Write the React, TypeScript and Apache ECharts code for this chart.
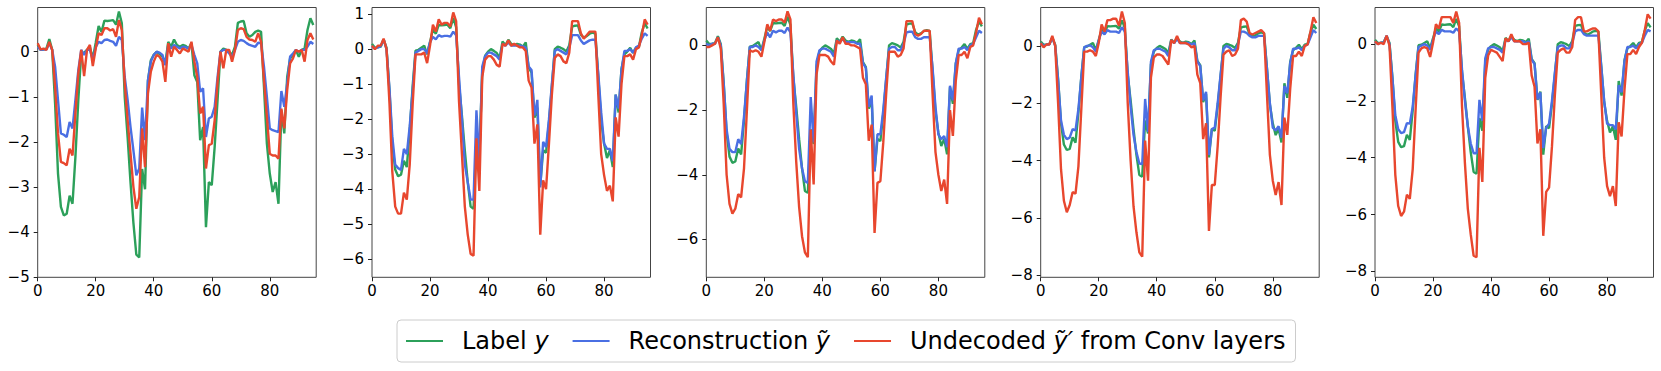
import React, { useEffect, useRef } from "react";
import * as echarts from "echarts";

const labelY = [0.15,0.04,0.05,0.07,0.28,0.04,-1.15,-2.70,-3.44,-3.63,
-3.59,-3.19,-3.37,-2.33,-1.07,-0.04,-0.02,0.04,0.10,-0.15,
0.20,0.57,0.44,0.69,0.68,0.69,0.70,0.60,0.89,0.63,
-1.00,-1.90,-2.90,-3.80,-4.50,-4.56,-2.60,-3.05,-0.65,-0.19,
-0.07,0.00,-0.05,-0.11,-0.25,0.22,0.11,0.27,0.15,0.11,
0.15,0.13,0.07,0.19,-0.52,-0.67,-1.96,-1.67,-3.89,-2.89,
-2.96,-2.11,-1.07,0.00,0.07,0.04,0.00,-0.07,0.11,0.64,
0.67,0.68,0.41,0.33,0.37,0.44,0.47,0.44,-0.78,-2.04,
-2.70,-3.11,-2.89,-3.37,-1.30,-1.81,-0.56,-0.15,-0.07,0.04,
-0.11,0.04,0.07,0.48,0.74,0.59];

const recon1 = [0.11,0.04,0.05,0.05,0.19,0.04,-0.33,-1.07,-1.81,-1.84,
-1.89,-1.56,-1.70,-1.07,-0.41,0.04,-0.07,0.04,0.04,-0.19,
0.10,0.22,0.19,0.26,0.27,0.24,0.22,0.13,0.33,0.26,
-0.56,-1.07,-1.67,-2.19,-2.74,-2.59,-1.24,-1.96,-0.63,-0.22,
-0.07,0.00,-0.02,-0.07,-0.30,0.15,0.07,0.15,0.11,0.07,
0.11,0.10,0.07,0.15,-0.07,-0.26,-0.89,-0.81,-1.89,-1.48,
-1.44,-1.22,-0.56,0.00,0.04,0.04,-0.04,-0.11,0.04,0.22,
0.26,0.24,0.19,0.15,0.13,0.11,0.20,0.19,-0.33,-1.00,
-1.70,-1.74,-1.76,-1.78,-0.87,-1.22,-0.70,-0.11,-0.04,0.04,
0.00,0.04,0.04,0.11,0.22,0.17];

const undec1 = [0.19,0.05,0.07,0.04,0.22,0.04,-0.78,-1.81,-2.44,-2.47,
-2.52,-2.15,-2.30,-1.37,-0.48,0.04,-0.54,0.04,0.15,-0.32,
0.07,0.41,0.37,0.52,0.52,0.47,0.50,0.33,0.70,0.48,
-0.70,-1.52,-2.26,-3.00,-3.48,-3.22,-1.70,-2.56,-0.93,-0.44,
-0.22,-0.07,-0.11,-0.22,-0.67,0.19,-0.11,0.11,0.04,-0.04,
0.07,0.04,0.00,0.22,-0.22,-0.56,-1.37,-1.22,-2.59,-2.07,
-2.04,-1.52,-0.67,0.00,-0.37,0.04,0.04,-0.22,0.04,0.48,
0.52,0.50,0.33,0.27,0.26,0.22,0.41,0.22,-0.63,-1.44,
-2.26,-2.30,-2.30,-2.37,-1.26,-1.70,-0.85,-0.26,-0.15,0.04,
0.00,0.04,-0.22,0.26,0.41,0.27];

const recon2 = [0.08,0.02,0.05,0.08,0.28,0.0,-1.1,-2.5,-3.3,-3.4,
-3.45,-2.85,-3.0,-2.2,-1.2,-0.1,-0.05,0.0,0.0,-0.12,
0.2,0.35,0.28,0.4,0.36,0.38,0.38,0.36,0.5,0.4,
-0.8,-2.0,-3.3,-3.8,-4.3,-4.3,-1.75,-3.2,-0.5,-0.2,
-0.1,-0.1,-0.15,-0.2,-0.3,0.15,0.1,0.2,0.1,0.1,
0.1,0.1,0.08,0.05,-0.5,-0.6,-1.9,-1.45,-3.95,-2.65,
-2.8,-2.0,-1.0,-0.05,0.0,-0.05,-0.1,-0.15,0.05,0.4,
0.4,0.4,0.25,0.15,0.2,0.25,0.27,0.27,-0.7,-1.8,
-2.7,-2.85,-2.85,-3.2,-1.3,-1.7,-0.6,-0.05,-0.05,0.0,
-0.1,0.05,0.1,0.3,0.45,0.38];

const undec2 = [0.1,0.0,0.1,0.1,0.3,0.0,-1.5,-3.5,-4.5,-4.7,
-4.7,-4.1,-4.3,-3.3,-1.6,-0.15,-0.15,-0.15,-0.1,-0.4,
0.1,0.7,0.5,0.85,0.7,0.75,0.75,0.65,1.05,0.8,
-1.5,-3.0,-4.5,-5.3,-5.85,-5.9,-2.55,-4.05,-0.8,-0.3,
-0.2,-0.2,-0.3,-0.45,-0.5,0.15,0.1,0.25,0.1,0.15,
0.1,0.05,0.05,-0.05,-0.9,-1.1,-2.7,-2.15,-5.3,-3.75,
-4.0,-2.7,-1.3,-0.25,-0.15,-0.2,-0.35,-0.4,-0.1,0.8,
0.8,0.8,0.45,0.3,0.4,0.5,0.5,0.5,-1.3,-3.0,
-3.6,-4.05,-3.9,-4.35,-1.95,-2.5,-1.0,-0.2,-0.2,-0.15,
-0.3,0.0,0.05,0.4,0.85,0.7];

const recon3 = [0.05,0.0,0.05,0.05,0.25,0.0,-1.2,-2.6,-3.2,-3.3,
-3.3,-2.9,-3.05,-2.2,-1.1,-0.05,-0.05,0.0,-0.05,-0.15,
0.15,0.4,0.25,0.45,0.4,0.45,0.45,0.38,0.55,0.4,
-0.9,-2.1,-3.2,-3.8,-4.2,-4.25,-1.6,-3.0,-0.5,-0.15,
-0.1,-0.1,-0.15,-0.2,-0.35,0.15,0.1,0.2,0.1,0.1,
0.1,0.1,0.05,0.05,-0.55,-0.7,-1.9,-1.55,-3.9,-2.75,
-2.75,-2.0,-1.0,-0.1,-0.05,-0.05,-0.15,-0.15,0.05,0.4,
0.42,0.42,0.25,0.2,0.2,0.25,0.25,0.25,-0.7,-1.9,
-2.75,-2.9,-2.8,-3.15,-1.25,-1.7,-0.55,-0.1,-0.1,-0.05,
-0.15,0.0,0.05,0.25,0.45,0.38];

const undec3 = [-0.05,-0.05,0.0,0.05,0.25,-0.1,-1.8,-4.0,-4.9,-5.2,
-5.05,-4.6,-4.7,-3.8,-2.0,-0.15,-0.2,-0.15,-0.2,-0.35,
0.1,0.65,0.45,0.8,0.75,0.8,0.8,0.7,1.05,0.8,
-1.8,-3.6,-5.0,-5.9,-6.4,-6.55,-2.6,-4.3,-0.9,-0.3,
-0.3,-0.3,-0.35,-0.5,-0.6,0.15,0.05,0.25,0.05,0.05,
0.0,0.0,-0.05,-0.1,-1.0,-1.2,-2.95,-2.45,-5.8,-4.25,
-4.2,-3.0,-1.5,-0.2,-0.2,-0.2,-0.35,-0.3,-0.1,0.75,
0.75,0.75,0.35,0.3,0.35,0.45,0.45,0.45,-1.5,-3.3,
-4.0,-4.5,-4.15,-4.9,-2.0,-2.8,-1.1,-0.3,-0.3,-0.2,
-0.4,-0.05,0.0,0.4,0.85,0.65];

const recon4 = [0.1,0.0,0.05,0.05,0.3,0.0,-1.2,-2.6,-3.1,-3.25,
-3.2,-2.9,-2.95,-2.2,-1.1,-0.05,0.0,0.02,-0.05,-0.2,
0.2,0.5,0.4,0.55,0.5,0.5,0.5,0.45,0.65,0.5,
-0.9,-2.1,-3.1,-3.7,-4.1,-4.12,-1.85,-3.0,-0.55,-0.15,
-0.1,-0.1,-0.15,-0.2,-0.35,0.2,0.1,0.25,0.1,0.1,
0.1,0.1,0.05,0.1,-0.55,-0.7,-1.9,-1.6,-3.8,-2.9,
-2.85,-2.0,-1.0,-0.1,0.0,-0.05,-0.15,-0.15,0.05,0.5,
0.5,0.45,0.35,0.3,0.3,0.35,0.35,0.35,-0.8,-2.0,
-2.85,-2.95,-2.8,-3.2,-1.4,-1.65,-0.6,-0.1,-0.1,-0.05,
-0.15,0.0,0.05,0.3,0.55,0.45];

const undec4 = [0.1,-0.05,0.05,0.05,0.35,0.0,-2.0,-4.3,-5.4,-5.8,
-5.55,-5.1,-5.15,-4.2,-2.2,-0.2,-0.2,-0.15,-0.2,-0.35,
0.1,0.75,0.5,0.9,0.9,0.95,0.95,0.7,1.2,0.8,
-2.0,-4.0,-5.6,-6.5,-7.2,-7.35,-3.3,-4.7,-1.1,-0.4,
-0.3,-0.3,-0.35,-0.5,-0.65,0.2,0.1,0.35,0.1,0.1,
0.1,0.05,-0.05,0.0,-1.0,-1.3,-3.25,-2.7,-6.45,-4.85,
-4.85,-3.5,-1.8,-0.3,-0.2,-0.15,-0.35,-0.3,-0.1,0.9,
0.95,0.85,0.45,0.4,0.45,0.5,0.55,0.45,-1.7,-3.8,
-4.7,-5.2,-4.75,-5.55,-2.5,-3.1,-1.5,-0.35,-0.35,-0.2,
-0.35,0.0,0.05,0.5,1.0,0.8];

const recon5 = [0.1,0.0,0.05,0.05,0.3,0.0,-1.2,-2.5,-3.0,-3.13,
-3.1,-2.78,-2.8,-2.2,-1.1,-0.1,-0.05,0.0,-0.05,-0.2,
0.15,0.45,0.35,0.5,0.45,0.45,0.45,0.4,0.55,0.45,
-0.9,-2.0,-2.9,-3.5,-3.84,-3.84,-1.96,-2.7,-0.5,-0.15,
-0.1,-0.1,-0.15,-0.2,-0.3,0.15,0.1,0.25,0.1,0.1,
0.1,0.1,0.05,0.1,-0.55,-0.7,-1.95,-1.7,-3.66,-2.95,
-2.8,-2.0,-1.0,-0.1,-0.05,-0.05,-0.15,-0.15,0.05,0.45,
0.5,0.5,0.35,0.3,0.3,0.3,0.3,0.3,-0.8,-2.0,
-2.8,-2.85,-2.85,-3.0,-1.45,-1.7,-0.6,-0.1,-0.1,-0.05,
-0.15,0.0,0.05,0.3,0.5,0.45];

const undec5 = [0.1,0.0,0.05,0.0,0.3,-0.05,-2.2,-4.6,-5.7,-6.05,
-5.9,-5.3,-5.45,-4.4,-2.3,-0.3,-0.15,-0.1,-0.15,-0.45,
0.05,0.7,0.55,0.95,0.95,0.95,0.95,0.75,1.15,0.75,
-2.2,-4.2,-5.8,-6.7,-7.45,-7.5,-3.65,-4.85,-1.2,-0.4,
-0.2,-0.25,-0.3,-0.45,-0.6,0.2,0.1,0.35,0.1,0.1,
0.1,0.0,0.0,0.05,-1.1,-1.5,-3.5,-3.0,-6.75,-5.2,
-5.05,-3.6,-1.8,-0.3,-0.2,-0.15,-0.3,-0.3,-0.1,0.85,
0.95,0.95,0.45,0.45,0.5,0.55,0.55,0.45,-1.8,-4.0,
-5.0,-5.35,-5.0,-5.7,-2.75,-3.25,-1.6,-0.35,-0.35,-0.2,
-0.35,-0.1,0.05,0.5,1.05,0.9];

const reconPanels = [recon1, recon2, recon3, recon4, recon5];
const undecPanels = [undec1, undec2, undec3, undec4, undec5];

const yMins = [-5, -6.52, -7.17, -8.07, -8.21];
const yMaxs = [0.98, 1.19, 1.17, 1.34, 1.29];
const yTicks = [
  [-5, -4, -3, -2, -1, 0],
  [-6, -5, -4, -3, -2, -1, 0, 1],
  [-6, -4, -2, 0],
  [-8, -6, -4, -2, 0],
  [-8, -6, -4, -2, 0],
];
const xTicks = [0, 20, 40, 60, 80];
const xMax = 96;

const seriesNames = ["Label y", "Reconstruction ỹ", "Undecoded ỹ′ from Conv layers"];
const seriesColors = ["#2ca05a", "#4a6fe3", "#e8472e"];

const FONT = "DejaVu Sans";

function fmtTick(v: number): string {
  return v < 0 ? "\u2212" + Math.abs(v) : String(v);
}

export default function App() {
  const ref = useRef<HTMLDivElement>(null);
  useEffect(() => {
    document.body.style.margin = "0";
    if (!ref.current) return;
    const chart = echarts.init(ref.current, null, { renderer: "svg" });

    const panelLefts = [37.7, 372, 706.3, 1040.7, 1375];
    const grids = panelLefts.map((l) => ({
      left: l,
      top: 7.5,
      width: 278.5,
      height: 269.8,
      show: true,
      borderColor: "#444",
      borderWidth: 1,
      backgroundColor: "#fff",
    }));

    const xAxes = panelLefts.map((_, i) => ({
      type: "value",
      gridIndex: i,
      position: "bottom",
      min: 0,
      max: xMax,
      axisLine: { show: false, onZero: false },
      splitLine: { show: false },
      axisTick: { show: true, length: 4, lineStyle: { color: "#222" }, customValues: xTicks },
      axisLabel: {
        show: true,
        fontFamily: FONT,
        fontSize: 15,
        color: "#000",
        margin: 6,
        customValues: xTicks,
        formatter: (v: number) => fmtTick(v),
      },
    }));

    const yAxes = panelLefts.map((_, i) => ({
      type: "value",
      gridIndex: i,
      position: "left",
      min: yMins[i],
      max: yMaxs[i],
      axisLine: { show: false, onZero: false },
      splitLine: { show: false },
      axisTick: { show: true, length: 4, lineStyle: { color: "#222" }, customValues: yTicks[i] },
      axisLabel: {
        show: true,
        fontFamily: FONT,
        fontSize: 15,
        color: "#000",
        margin: 8,
        customValues: yTicks[i],
        formatter: (v: number) => fmtTick(v),
      },
    }));

    const series: any[] = [];
    for (let p = 0; p < 5; p++) {
      const arrs = [labelY, reconPanels[p], undecPanels[p]];
      arrs.forEach((arr, k) => {
        series.push({
          type: "line",
          name: seriesNames[k],
          xAxisIndex: p,
          yAxisIndex: p,
          data: arr.map((v, idx) => [idx, v]),
          showSymbol: false,
          symbol: "none",
          lineStyle: { color: seriesColors[k], width: 2.4 },
          itemStyle: { color: seriesColors[k] },
          z: 2 + k,
        });
      });
    }

    const richLegend = {
      s: { width: 14, fontFamily: FONT, fontSize: 24 },
      n: { fontFamily: FONT, fontSize: 24, color: "#000" },
      i: { fontFamily: FONT, fontSize: 24, fontStyle: "italic", color: "#000" },
    };

    chart.setOption({
      animation: false,
      backgroundColor: "#fff",
      grid: grids,
      xAxis: xAxes,
      yAxis: yAxes,
      series,
      legend: {
        show: true,
        left: 397,
        top: 320,
        orient: "horizontal",
        padding: [7, 10, 7, 9],
        itemGap: 24,
        itemWidth: 37,
        itemHeight: 14,
        borderColor: "#cccccc",
        borderWidth: 1,
        borderRadius: 4,
        backgroundColor: "#fff",
        icon: "path://M0,6 L37,6 L37,8 L0,8 Z",
        data: seriesNames.map((n, k) => ({ name: n, itemStyle: { color: seriesColors[k] } })),
        formatter: (name: string) => {
          if (name === seriesNames[0]) return "{s|}{n|Label }{i|y}";
          if (name === seriesNames[1]) return "{s|}{n|Reconstruction }{i|ỹ}";
          return "{s|}{n|Undecoded }{i|ỹ′}{n| from Conv layers}";
        },
        textStyle: { fontFamily: FONT, fontSize: 24, color: "#000", lineHeight: 28, rich: richLegend },
      },
    });

    return () => {
      chart.dispose();
    };
  }, []);

  return <div ref={ref} style={{ width: 1661, height: 371 }} />;
}
